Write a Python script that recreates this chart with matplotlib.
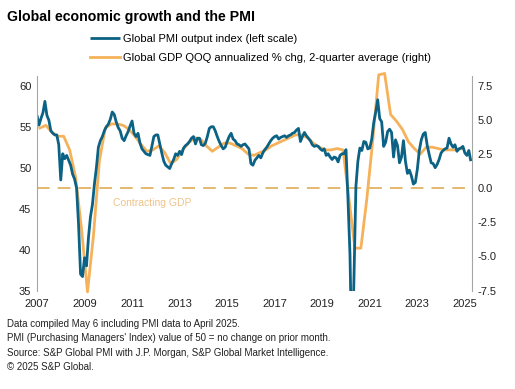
import matplotlib
matplotlib.use('Agg')
import matplotlib.pyplot as plt
import numpy as np

plt.rcParams['font.family'] = ['Liberation Sans', 'DejaVu Sans']

# Global PMI output index, monthly from Jan 2007 to Apr 2025
pmi = [56.4, 55.2, 56.0, 56.7, 58.1, 56.4, 55.8, 54.5, 54.2, 54.0, 54.0, 52.8,  # 2007
       48.5, 51.7, 51.1, 51.5, 50.9, 50.3, 49.2, 48.6, 47.5, 43.0, 37.0, 36.7,  # 2008
       39.0, 38.0, 41.5, 44.0, 45.5, 48.0, 50.0, 52.5, 53.3, 53.8, 54.5, 55.0,  # 2009
       55.3, 55.9, 56.8, 56.5, 55.6, 54.9, 54.5, 53.6, 53.3, 53.9, 54.4, 55.1,  # 2010
       55.7, 54.2, 53.8, 54.2, 53.0, 52.3, 52.0, 51.7, 51.6, 51.5, 52.6, 53.8,  # 2011
       54.0, 54.0, 52.9, 51.8, 50.8, 50.3, 50.1, 49.9, 50.5, 51.0, 51.7, 51.5,  # 2012
       52.0, 51.6, 52.4, 52.7, 52.9, 53.2, 53.6, 53.8, 52.9, 53.6, 53.6, 52.8,  # 2013
       52.7, 53.0, 53.8, 54.8, 55.0, 55.0, 54.5, 53.8, 53.2, 52.7, 52.3, 52.5,  # 2014
       53.2, 53.8, 54.2, 53.5, 53.3, 52.9, 52.8, 52.6, 52.8, 52.9, 52.6, 52.3,  # 2015
       50.5, 50.3, 50.9, 51.2, 51.5, 51.2, 51.8, 52.2, 52.5, 52.9, 53.3, 53.6,  # 2016
       53.8, 53.9, 53.5, 53.7, 53.8, 53.9, 53.7, 53.9, 54.0, 54.2, 54.3, 54.6,  # 2017
       54.8, 53.2, 53.8, 54.3, 53.9, 53.6, 53.3, 52.8, 52.6, 52.7, 52.6, 52.3,  # 2018
       52.1, 52.3, 51.5, 51.7, 51.3, 51.0, 51.3, 51.2, 50.7, 51.5, 51.7, 51.7,  # 2019
       52.2, 46.1, 39.4, 26.2, 36.3, 47.7, 50.8, 52.4, 52.1, 53.2, 53.1, 52.3,  # 2020
       52.4, 53.5, 55.5, 56.8, 58.3, 56.0, 55.6, 52.6, 53.1, 54.4, 54.7, 54.3,  # 2021
       51.3, 53.4, 52.7, 50.6, 51.3, 53.3, 50.8, 49.3, 49.7, 49.0, 48.0, 48.2,  # 2022
       49.8, 52.1, 53.4, 54.1, 54.3, 52.7, 51.6, 50.6, 50.5, 50.0, 50.4, 51.0,  # 2023
       51.8, 52.1, 52.3, 52.4, 53.6, 52.9, 52.5, 52.8, 52.0, 52.3, 52.4, 52.6,  # 2024
       51.8, 51.5, 52.1, 50.8]                                                  # 2025

# Global GDP QOQ annualized % chg, 2-quarter average, quarterly 2007Q1-2024Q4
gdp = [4.4, 4.6, 4.1, 3.8,   # 2007
       3.8, 2.8, 0.8, -3.0,  # 2008
       -7.6, -3.5, 2.0, 4.4,  # 2009
       4.7, 4.7, 4.6, 4.3,   # 2010
       3.8, 3.2, 2.7, 2.8,   # 2011
       3.1, 2.6, 1.8, 2.1,   # 2012
       2.8, 3.3, 3.7, 3.6,   # 2013
       3.1, 2.7, 3.0, 3.3,   # 2014
       3.3, 3.1, 2.9, 2.5,   # 2015
       2.4, 2.6, 2.8, 3.1,   # 2016
       3.3, 3.5, 3.7, 3.9,   # 2017
       3.9, 3.7, 3.3, 3.0,   # 2018
       2.8, 2.8, 2.9, 2.8,   # 2019
       -0.8, -4.4, -4.4, -0.8,  # 2020
       3.5, 8.3, 8.4, 5.4,   # 2021
       4.9, 4.3, 3.4, 2.9,   # 2022
       2.5, 3.0, 3.0, 2.9,   # 2023
       2.8, 2.8, 2.8, 2.9]   # 2024

years = list(range(2007, 2026, 2))
left_ticks = [35, 40, 45, 50, 55, 60]
right_ticks = [-7.5, -5.0, -2.5, 0.0, 2.5, 5.0, 7.5]

pmi_x = 2007 + np.arange(len(pmi)) / 12.0
gdp_x = 2007 + 0.125 + np.arange(len(gdp)) * 0.25

blue = '#0b6284'
orange = '#f6b25a'
grey = '#a6a6a6'

fig = plt.figure(figsize=(5.15, 3.89), dpi=100)
ax = fig.add_axes([0.0718, 0.2532, 0.8447, 0.5523])
ax2 = ax.twinx()

ax.set_zorder(2)
ax.patch.set_visible(False)

l1, = ax.plot(pmi_x, pmi, color=blue, lw=2.0, solid_capstyle='butt',
              label='Global PMI output index (left scale)')
l2, = ax2.plot(gdp_x, gdp, color=orange, lw=2.0, clip_on=False,
               solid_joinstyle='round',
               label='Global GDP QOQ annualized % chg, 2-quarter average (right)')
ax2.axhline(0, color='#e2b263', lw=1.3, dashes=(7, 4.5))
ax2.text(2010.2, -1.1, 'Contracting GDP', color='#f0c388', fontsize=7.5,
         va='center')

ax.set_xlim(2007, 2025.3)
ax.set_ylim(35, 61.24)
ax2.set_ylim(-7.5, 8.24)
ax.set_xticks(years)
ax.set_xticklabels([str(y) for y in years])
ax.set_yticks(left_ticks)
ax2.set_yticks(right_ticks)
ax2.set_yticklabels(['%.1f' % v for v in right_ticks])

for a in (ax, ax2):
    for s in ('top', 'bottom'):
        a.spines[s].set_visible(False)
    a.spines['left'].set_color(grey)
    a.spines['right'].set_color(grey)
    a.tick_params(length=0, labelsize=8, colors='#222222', pad=4)
ax.spines['right'].set_visible(False)
ax2.spines['left'].set_visible(False)
ax.tick_params(axis='x', pad=6)

fig.text(0.014, 0.956, 'Global economic growth and the PMI', fontsize=10.2,
         fontweight='bold', va='center')
fig.legend(handles=[l1, l2], loc='upper left', bbox_to_anchor=(0.175, 0.912),
           frameon=False, fontsize=8, handlelength=2.7, handletextpad=0.3,
           labelspacing=0.8, borderaxespad=0, borderpad=0)

notes = ['Data compiled May 6 including PMI data to April 2025.',
         "PMI (Purchasing Managers' Index) value of 50 = no change on prior month.",
         'Source: S&P Global PMI with J.P. Morgan, S&P Global Market Intelligence.',
         '\u00a9 2025 S&P Global.']
for i, t in enumerate(notes):
    fig.text(0.014, 1 - (324 + 14.3 * i) / 389, t, fontsize=7, va='center',
             color='#222222')

fig.savefig('out.png', dpi=100)
